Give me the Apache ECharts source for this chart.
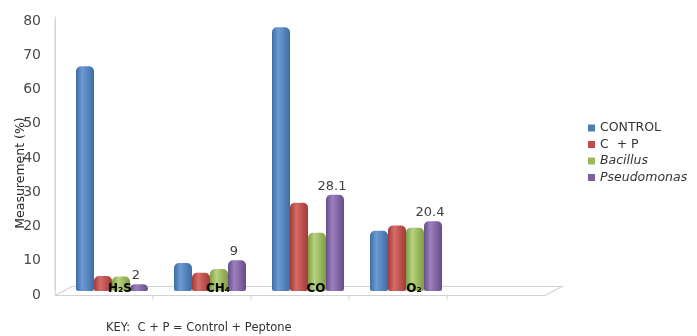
<!DOCTYPE html>
<html>
<head>
<meta charset="utf-8">
<script src="https://cdn.jsdelivr.net/npm/echarts@6/dist/echarts.min.js"></script>
<style>
  html, body { margin: 0; padding: 0; background: #fff; }
  #chart { width: 697px; height: 336px; }
</style>
</head>
<body>
<div id="chart"></div>
<script>
// Gas measurements per treatment (%)
const categories = ['H\u2082S', 'CH\u2084', 'CO', 'O\u2082', ''];
const seriesNames = ['CONTROL', 'C  + P', 'Bacillus', 'Pseudomonas'];
const control = [65.6, 8.2, 77, 17.6];
const controlPeptone = [4.4, 5.3, 25.8, 19.1];
const bacillus = [4.2, 6.4, 17, 18.5];
const pseudomonas = [2, 9, 28.1, 20.4];
const yTicks = [0, 10, 20, 30, 40, 50, 60, 70, 80];

const palette = [
  { dark: '#3d6ca6', light: '#6d9ad3', base: '#4a7ebb' },
  { dark: '#a33a37', light: '#d76c69', base: '#be4b48' },
  { dark: '#7f9d41', light: '#b7d37f', base: '#98b954' },
  { dark: '#664d88', light: '#9d80bd', base: '#7d5fa0' }
];

const FONT = 'DejaVu Sans';
const gridLeft = 63, gridRight = 144, gridTop = 17, gridBottom = 45;
const depthX = 8, depthY = 4.5;

const chart = echarts.init(document.getElementById('chart'), null, { renderer: 'canvas' });

function barGradient(p) {
  return new echarts.graphic.LinearGradient(0, 0, 1, 0, [
    { offset: 0, color: p.dark },
    { offset: 0.35, color: p.light },
    { offset: 1, color: p.dark }
  ]);
}

const values = [control, controlPeptone, bacillus, pseudomonas];

const series = values.map((data, i) => ({
  name: seriesNames[i],
  type: 'bar',
  data: data,
  barWidth: 18,
  barGap: '0%',
  itemStyle: {
    color: barGradient(palette[i]),
    borderRadius: [5, 5, 2, 2]
  },
  label: {
    show: i === 3,
    position: 'top',
    distance: 2,
    color: '#404040',
    fontFamily: FONT,
    fontSize: 13,
    offset: [-3, 0]
  },
  z: 3
}));

chart.setOption({
  animation: false,
  grid: { left: gridLeft, right: gridRight, top: gridTop, bottom: gridBottom },
  legend: {
    orient: 'vertical',
    left: 583,
    top: 115,
    icon: 'rect',
    itemWidth: 7,
    itemHeight: 7,
    itemGap: 0.5,
    data: seriesNames.map((n, i) => ({ name: n, itemStyle: { color: palette[i].base } })),
    formatter: function (name) {
      return (name === 'Bacillus' || name === 'Pseudomonas') ? '{i|' + name + '}' : '{n|' + name + '}';
    },
    textStyle: {
      fontFamily: FONT,
      fontSize: 12,
      color: '#333',
      lineHeight: 16,
      rich: {
        n: { fontFamily: FONT, fontSize: 12.5, color: '#333', lineHeight: 16 },
        i: { fontFamily: FONT, fontSize: 12.5, color: '#333', fontStyle: 'italic', lineHeight: 16 }
      }
    }
  },
  xAxis: {
    type: 'category',
    data: categories,
    z: 10,
    axisLine: { show: false },
    axisTick: { show: false },
    axisLabel: {
      margin: -8,
      color: '#000',
      fontWeight: 'bold',
      fontFamily: FONT,
      fontSize: 12,
      padding: [0, 0, 0, 16],
      interval: 0
    }
  },
  yAxis: {
    type: 'value',
    min: 0,
    max: 80,
    interval: 10,
    offset: depthX,
    splitLine: { show: false },
    axisLine: { show: true, lineStyle: { color: '#d4d4d4', width: 1 } },
    axisTick: { show: false },
    axisLabel: {
      margin: 14,
      formatter: v => (yTicks.indexOf(v) >= 0 ? '{v|' + v + '}' : ''),
      rich: {
        v: { color: '#4a4a4a', fontFamily: FONT, fontSize: 14, padding: [8, 0, 0, 0] }
      }
    }
  },
  title: {
    text: 'KEY:  C + P = Control + Peptone',
    left: 106,
    top: 322,
    padding: 0,
    textStyle: { fontFamily: FONT, fontSize: 11.5, fontWeight: 'normal', color: '#333' }
  },
  series: series
});

// Perspective floor under the bars, derived from the axis scale
const zeroY = chart.convertToPixel({ yAxisIndex: 0 }, 0);
const plotW = 697 - gridLeft - gridRight;
const catW = plotW / categories.length;
const frontY = zeroY + depthY, backY = zeroY - depthY;
const fx0 = gridLeft - depthX, fx1 = gridLeft + plotW - depthX;
const bx0 = gridLeft + depthX + 1, bx1 = gridLeft + plotW + depthX + 1;
const floorColor = '#d2d2d2';
const graphics = [
  { type: 'polyline', shape: { points: [[fx0, frontY], [bx0, backY], [bx1, backY], [fx1, frontY], [fx0, frontY]] },
    style: { stroke: floorColor, lineWidth: 1.2, fill: null }, z: 0 },
  { type: 'line', shape: { x1: fx0, y1: gridTop + 3, x2: fx0, y2: frontY },
    style: { stroke: floorColor, lineWidth: 1 }, z: 0 }
];
for (let i = 1; i < categories.length; i++) {
  const x = gridLeft + i * catW - depthX;
  graphics.push({ type: 'line', shape: { x1: x, y1: frontY, x2: x, y2: frontY + 4 },
    style: { stroke: floorColor, lineWidth: 1 }, z: 0 });
}
graphics.push({
  type: 'text', x: 21, y: 173, rotation: Math.PI / 2,
  style: { text: 'Measurement (%)', fontFamily: FONT, fontSize: 12.5, fill: '#222',
    textAlign: 'center', textVerticalAlign: 'middle' },
  z: 20
});
chart.setOption({ graphic: graphics });
</script>
</body>
</html>
